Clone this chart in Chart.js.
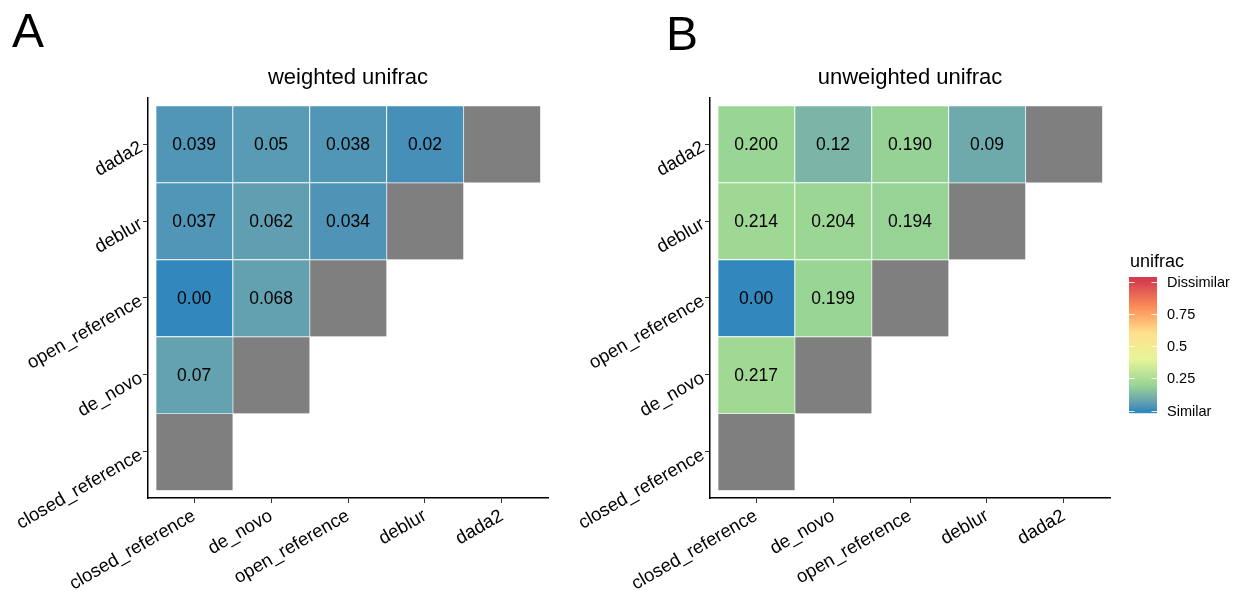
<!DOCTYPE html>
<html>
<head>
<meta charset="utf-8">
<script src="https://cdn.jsdelivr.net/npm/chart.js@4.4.1/dist/chart.umd.min.js"></script>
<style>
html,body{margin:0;padding:0;background:#fff;}
#wrap{position:relative;width:1237px;height:590px;overflow:hidden;background:#fff;}
#cA{position:absolute;left:0;top:0;}
#cB{position:absolute;left:560px;top:0;}
</style>
</head>
<body>
<div id="wrap">
<canvas id="cA" width="600" height="590"></canvas>
<canvas id="cB" width="677" height="590"></canvas>
</div>
<script>
// ---------- data ----------
const methods = ['closed_reference', 'de_novo', 'open_reference', 'deblur', 'dada2']; // axis order (x left->right, y bottom->top)
const rowOrder = ['dada2', 'deblur', 'open_reference', 'de_novo'];                      // rows with coloured cells, top to bottom
const weightedValues = [
  [0.039, 0.05, 0.038, 0.02],
  [0.037, 0.062, 0.034],
  [0.00, 0.068],
  [0.07]
];
const weightedLabels = [
  ['0.039', '0.05', '0.038', '0.02'],
  ['0.037', '0.062', '0.034'],
  ['0.00', '0.068'],
  ['0.07']
];
const unweightedValues = [
  [0.200, 0.12, 0.190, 0.09],
  [0.214, 0.204, 0.194],
  [0.00, 0.199],
  [0.217]
];
const unweightedLabels = [
  ['0.200', '0.12', '0.190', '0.09'],
  ['0.214', '0.204', '0.194'],
  ['0.00', '0.199'],
  ['0.217']
];
const legendBreaks = [0, 0.25, 0.5, 0.75, 1];
const legendLabels = ['Similar', '0.25', '0.5', '0.75', 'Dissimilar'];
const paletteStops = ['#3288BD', '#99D594', '#E6F598', '#FEE08B', '#FC8D59', '#D53E4F'];

// ---------- colour scale (Lab interpolation, like ggplot) ----------
function hexToRgb(h) { h = h.replace('#', ''); return [0, 2, 4].map(i => parseInt(h.substr(i, 2), 16)); }
function lin(c) { c /= 255; return c <= 0.04045 ? c / 12.92 : Math.pow((c + 0.055) / 1.055, 2.4); }
function delin(c) { c = c <= 0.0031308 ? 12.92 * c : 1.055 * Math.pow(c, 1 / 2.4) - 0.055; return Math.max(0, Math.min(255, Math.round(c * 255))); }
function rgbToLab(rgb) {
  const [r, g, b] = rgb.map(lin);
  let X = (r * 0.4124 + g * 0.3576 + b * 0.1805) / 0.95047;
  let Y = (r * 0.2126 + g * 0.7152 + b * 0.0722);
  let Z = (r * 0.0193 + g * 0.1192 + b * 0.9505) / 1.08883;
  const f = t => t > 0.008856 ? Math.cbrt(t) : 7.787 * t + 16 / 116;
  const fx = f(X), fy = f(Y), fz = f(Z);
  return [116 * fy - 16, 500 * (fx - fy), 200 * (fy - fz)];
}
function labToRgb(lab) {
  const [L, a, b] = lab;
  const fy = (L + 16) / 116, fx = fy + a / 500, fz = fy - b / 200;
  const finv = t => t * t * t > 0.008856 ? t * t * t : (t - 16 / 116) / 7.787;
  const X = finv(fx) * 0.95047, Y = finv(fy), Z = finv(fz) * 1.08883;
  const r = X * 3.2406 + Y * -1.5372 + Z * -0.4986;
  const g = X * -0.9689 + Y * 1.8758 + Z * 0.0415;
  const bb = X * 0.0557 + Y * -0.2040 + Z * 1.0570;
  return [delin(r), delin(g), delin(bb)];
}
const paletteLab = paletteStops.map(h => rgbToLab(hexToRgb(h)));
function colorFor(v) {
  const t = Math.max(0, Math.min(1, v)) * (paletteLab.length - 1);
  const i = Math.min(paletteLab.length - 2, Math.floor(t));
  const f = t - i;
  const a = paletteLab[i], b = paletteLab[i + 1];
  const rgb = labToRgb([0, 1, 2].map(k => a[k] + (b[k] - a[k]) * f));
  return 'rgb(' + rgb.join(',') + ')';
}

// ---------- helpers ----------
const FONT = "'Liberation Sans', Arial, sans-serif";

function buildCells(values, labels) {
  const cells = [];
  rowOrder.forEach((rowName, k) => {
    const r = methods.indexOf(rowName);
    values[k].forEach((v, j) => {
      cells.push({ x: j, y: [r - 0.5, r + 0.5], v: v, label: labels[k][j] });
    });
  });
  return cells;
}
function buildDiag() {
  return methods.map((m, i) => ({ x: i, y: [i - 0.5, i + 0.5] }));
}

const cellTextPlugin = {
  id: 'cellText',
  afterDatasetsDraw(chart) {
    const ctx = chart.ctx;
    const meta = chart.getDatasetMeta(0);
    const data = chart.data.datasets[0].data;
    ctx.save();
    ctx.font = '17.5px ' + FONT;
    ctx.fillStyle = '#000';
    ctx.textAlign = 'center';
    ctx.textBaseline = 'middle';
    meta.data.forEach((el, i) => {
      const p = el.getProps(['x', 'y', 'base'], true);
      ctx.fillText(data[i].label, p.x, (p.y + p.base) / 2 + 1);
    });
    ctx.restore();
  }
};

function decorPlugin(title, panel, panelX, panelY) {
  return {
    id: 'decor',
    afterDraw(chart) {
      const ctx = chart.ctx, a = chart.chartArea;
      ctx.save();
      ctx.fillStyle = '#000';
      ctx.textAlign = 'center';
      ctx.textBaseline = 'alphabetic';
      ctx.font = '22px ' + FONT;
      ctx.fillText(title, (a.left + a.right) / 2, a.top - 14);
      ctx.textAlign = 'left';
      ctx.font = '48px ' + FONT;
      ctx.fillText(panel, panelX, panelY);
      ctx.restore();
    }
  };
}

const legendPlugin = {
  id: 'colorbar',
  afterDraw(chart) {
    const ctx = chart.ctx, a = chart.chartArea;
    const x0 = a.right + 19, w = 28;
    const yFor = v => 410.7 - v * 129.2;
    const top = yFor(1) - 4.5, bottom = yFor(0) + 2.5;
    ctx.save();
    const grad = ctx.createLinearGradient(0, yFor(0), 0, yFor(1));
    for (let i = 0; i <= 40; i++) grad.addColorStop(i / 40, colorFor(i / 40));
    ctx.fillStyle = grad;
    ctx.fillRect(x0, top, w, bottom - top);
    ctx.strokeStyle = 'rgba(255,255,255,0.85)';
    ctx.lineWidth = 1;
    legendBreaks.forEach(v => {
      const y = Math.round(yFor(v)) + 0.5;
      ctx.beginPath();
      ctx.moveTo(x0, y); ctx.lineTo(x0 + 5.5, y);
      ctx.moveTo(x0 + w - 5.5, y); ctx.lineTo(x0 + w, y);
      ctx.stroke();
    });
    ctx.fillStyle = '#000';
    ctx.font = '14.5px ' + FONT;
    ctx.textAlign = 'left';
    ctx.textBaseline = 'middle';
    legendBreaks.forEach((v, i) => ctx.fillText(legendLabels[i], x0 + w + 10, yFor(v) + 1));
    ctx.font = '18px ' + FONT;
    ctx.textBaseline = 'alphabetic';
    ctx.fillText('unifrac', x0 + 1, 267);
    ctx.restore();
  }
};

function axisOptions(isX, sizeFn) {
  return {
    type: 'linear',
    min: -0.6,
    max: 4.6,
    offset: false,
    beginAtZero: false,
    afterBuildTicks: s => { s.ticks = methods.map((m, i) => ({ value: i })); },
    afterFit: sizeFn,
    ticks: {
      autoSkip: false,
      minRotation: 30,
      maxRotation: 30,
      color: '#000',
      padding: 2,
      labelOffset: isX ? 0 : 2,
      font: { family: FONT, size: 18.5 },
      callback: v => methods[v]
    },
    grid: { display: true, drawOnChartArea: false, drawTicks: true, tickLength: 5, color: '#333', offset: false },
    border: { display: true, color: '#000', width: 1.5 }
  };
}

function makeChart(canvasId, values, labels, title, panel, panelX, panelY, yWidth, padRight, extraPlugins) {
  const cellDs = {
    data: buildCells(values, labels),
    backgroundColor: ctx => (ctx.raw ? colorFor(ctx.raw.v) : '#ccc'),
    borderColor: '#fff',
    borderWidth: { top: 1, left: 1, right: 0, bottom: 0 },
    borderSkipped: false,
    grouped: false,
    barPercentage: 1,
    categoryPercentage: 1
  };
  const diagDs = {
    data: buildDiag(),
    backgroundColor: '#7F7F7F',
    borderColor: 'rgba(255,255,255,0.9)',
    borderWidth: { top: 1, left: 1, right: 0, bottom: 0 },
    borderSkipped: false,
    grouped: false,
    barPercentage: 1,
    categoryPercentage: 1
  };
  return new Chart(document.getElementById(canvasId), {
    type: 'bar',
    data: { datasets: [cellDs, diagDs] },
    options: {
      responsive: false,
      animation: false,
      devicePixelRatio: 1,
      layout: { padding: { left: 0, right: padRight, top: 98, bottom: 0 } },
      plugins: { legend: { display: false }, tooltip: { enabled: false }, title: { display: false } },
      scales: {
        x: axisOptions(true, s => { s.height = 92; }),
        y: axisOptions(false, s => { s.width = yWidth; })
      }
    },
    plugins: [cellTextPlugin, decorPlugin(title, panel, panelX, panelY)].concat(extraPlugins)
  });
}

makeChart('cA', weightedValues, weightedLabels, 'weighted unifrac', 'A', 12, 47, 148, 600 - 548, []);
makeChart('cB', unweightedValues, unweightedLabels, 'unweighted unifrac', 'B', 666 - 560, 50, 150, 677 - 550, [legendPlugin]);
</script>
</body>
</html>
